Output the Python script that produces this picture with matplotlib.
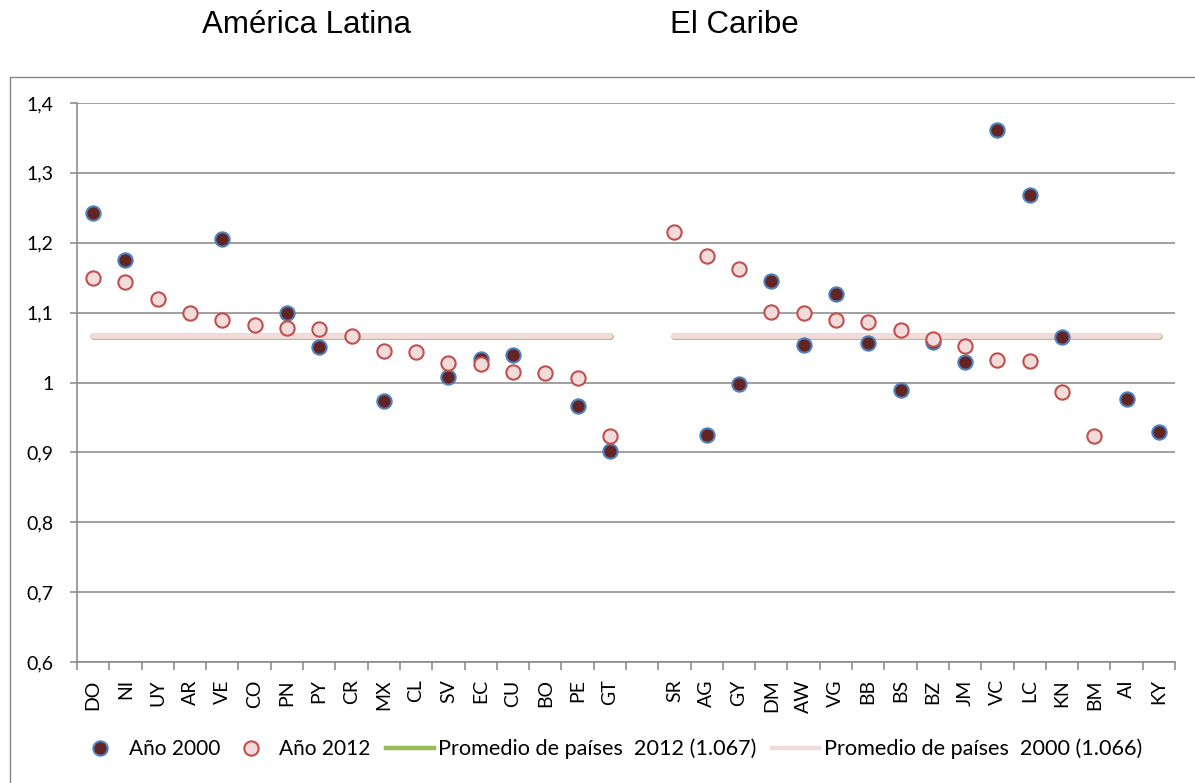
import numpy as np
import matplotlib
matplotlib.use("Agg")
import matplotlib.pyplot as plt
from matplotlib.lines import Line2D
from matplotlib.patches import Rectangle

nan = np.nan

categories = ["DO", "NI", "UY", "AR", "VE", "CO", "PN", "PY", "CR", "MX", "CL", "SV",
              "EC", "CU", "BO", "PE", "GT", "",
              "SR", "AG", "GY", "DM", "AW", "VG", "BB", "BS", "BZ", "JM", "VC", "LC",
              "KN", "BM", "AI", "KY"]

anio_2000 = [1.243, 1.175, nan, nan, 1.206, nan, 1.100, 1.051, nan, 0.973, nan, 1.008,
             1.033, 1.039, nan, 0.967, 0.902, nan,
             nan, 0.925, 0.998, 1.145, 1.054, 1.127, 1.056, 0.989, 1.058, 1.030, 1.361, 1.268,
             1.065, nan, 0.976, 0.929]

anio_2012 = [1.150, 1.144, 1.119, 1.100, 1.090, 1.082, 1.078, 1.077, 1.067, 1.045, 1.044, 1.028,
             1.026, 1.015, 1.014, 1.006, 0.923, nan,
             1.216, 1.181, 1.162, 1.101, 1.100, 1.090, 1.086, 1.075, 1.062, 1.052, 1.032, 1.031,
             0.986, 0.923, nan, nan]

promedio_2012 = 1.067
promedio_2000 = 1.066

region_titles = ["América Latina", "El Caribe"]
yticks = [0.6, 0.7, 0.8, 0.9, 1.0, 1.1, 1.2, 1.3, 1.4]
ytick_labels = ["0,6", "0,7", "0,8", "0,9", "1", "1,1", "1,2", "1,3", "1,4"]

legend_labels = ["Año 2000", "Año 2012",
                 "Promedio de países  2012 (1.067)",
                 "Promedio de países  2000 (1.066)"]

GRID = "#868686"
C2000_FILL = "#632523"
C2000_EDGE = "#4f81bd"
C2012_FILL = "#f2dcdb"
C2012_EDGE = "#c0504d"
GREEN = "#9bbb59"
PINK = "#f2dcdb"

TICKFONT = "Lato"
LEGSIZE = 15.6

W, H = 1195, 783
fig = plt.figure(figsize=(W / 100, H / 100), dpi=100)

# outer chart frame
fig.patches.append(Rectangle((10 / W, -0.05), 1.2, (H - 77) / H + 0.05,
                             transform=fig.transFigure, fill=False,
                             edgecolor=GRID, linewidth=1.0, zorder=0))

ax = fig.add_axes([77 / W, (H - 662) / H, (1175 - 77) / W, (662 - 103) / H])

x = np.arange(len(categories))
blank = np.array([c == "" for c in categories])
avg12 = np.where(blank, nan, promedio_2012)
avg00 = np.where(blank, nan, promedio_2000)

ax.plot(x, avg12, color=GREEN, lw=4.8, solid_capstyle="round", zorder=2)
ax.plot(x, avg00, color=PINK, lw=4.2, solid_capstyle="round", zorder=3)

ax.plot(x, anio_2000, linestyle="none", marker="o", ms=10.3, mfc=C2000_FILL,
        mec=C2000_EDGE, mew=1.5, zorder=4)
ax.plot(x, anio_2012, linestyle="none", marker="o", ms=10.3, mfc=C2012_FILL,
        mec=C2012_EDGE, mew=1.5, zorder=5)

ax.set_xlim(-0.5, len(categories) - 0.5)
ax.set_ylim(0.6, 1.4)
ax.set_yticks(yticks)
ax.set_yticklabels(ytick_labels, fontfamily=TICKFONT, fontsize=14)
ax.set_xticks(x)
ax.set_xticklabels(categories, rotation=90, fontfamily=TICKFONT, fontsize=14,
                   ha="center", va="top")
ax.set_xticks(np.arange(-0.5, len(categories), 1.0), minor=True)
ax.tick_params(axis="x", which="major", length=0, pad=12.5)
ax.tick_params(axis="x", which="minor", length=6, width=1.1, color=GRID, direction="out")
ax.tick_params(axis="y", which="major", length=5, width=1.1, color=GRID, pad=12)

ax.grid(axis="y", color=GRID, lw=1.1)
ax.set_axisbelow(True)
for s in ["top", "right"]:
    ax.spines[s].set_visible(False)
for s in ["left", "bottom"]:
    ax.spines[s].set_color(GRID)
    ax.spines[s].set_linewidth(1.1)

# region titles
fig.text(306 / W, 1 - 25 / H, region_titles[0], ha="center", va="center",
         fontfamily="Liberation Sans", fontsize=22.5)
fig.text(734 / W, 1 - 25 / H, region_titles[1], ha="center", va="center",
         fontfamily="Liberation Sans", fontsize=22.5)

# legends
h1 = [Line2D([], [], linestyle="none", marker="o", ms=10.3, mfc=C2000_FILL,
             mec=C2000_EDGE, mew=1.5),
      Line2D([], [], linestyle="none", marker="o", ms=10.3, mfc=C2012_FILL,
             mec=C2012_EDGE, mew=1.5)]
h2 = [Line2D([], [], color=GREEN, lw=3.2),
      Line2D([], [], color=PINK, lw=3.2)]
ly = 1 - 749 / H
fig.legend(h1, legend_labels[:2], loc="center left", bbox_to_anchor=(90 / W, ly),
           ncol=2, frameon=False, borderpad=0, borderaxespad=0,
           handlelength=1.0, handletextpad=0.85,
           columnspacing=1.0, prop={"family": TICKFONT, "size": 15.0})
fig.legend(h2, legend_labels[2:], loc="center left", bbox_to_anchor=(386 / W, ly),
           ncol=2, frameon=False, borderpad=0, borderaxespad=0,
           handlelength=2.2, handletextpad=0.2,
           columnspacing=0.7, prop={"family": TICKFONT, "size": LEGSIZE})

fig.savefig("out.png", dpi=100)
